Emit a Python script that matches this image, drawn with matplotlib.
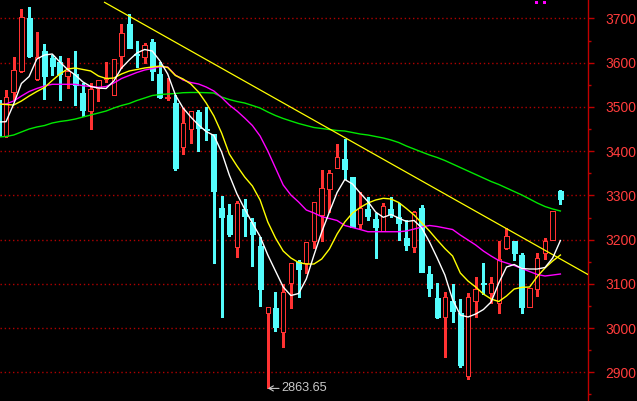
import matplotlib
matplotlib.use("Agg")
import matplotlib.pyplot as plt
from matplotlib.patches import Rectangle
from matplotlib.ticker import MultipleLocator, FixedLocator

# ---------------- data ----------------
opens = [3515.7, 3435.0, 3534.5, 3580.6, 3700.5, 3562.5, 3626.5, 3610.0, 3601.6, 3570.7,
         3574.5, 3531.6, 3491.5, 3542.2, 3562.1, 3527.7, 3615.2, 3687.6, 3619.7, 3612.3,
         3647.5, 3574.5, 3520.3, 3509.6, 3408.8, 3450.9, 3488.6, 3450.5, 3438.2, 3270.9,
         3255.7, 3184.1, 3269.3, 3239.2, 3185.6, 3033.5, 3044.8, 2990.5, 3101.3, 3150.1,
         3146.5, 3196.3, 3256.4, 3315.2, 3362.7, 3381.7, 3341.0, 3234.7, 3269.3, 3246.7,
         3219.6, 3269.3, 3250.5, 3204.4, 3182.3, 3270.9, 3122.3, 3067.4, 3025.8, 3061.3,
         3033.5, 2892.4, 3062.0, 3102.0, 3078.7, 3056.1, 3181.8, 3197.6, 3165.3, 3047.0,
         3087.8, 3169.1, 3199.2, 3310.0]
highs = [3521.0, 3538.3, 3612.3, 3721.5, 3726.7, 3668.8, 3643.0, 3617.5, 3615.2, 3610.0,
         3626.5, 3553.5, 3554.2, 3561.0, 3601.6, 3607.8, 3687.6, 3710.2, 3648.0, 3645.3,
         3653.0, 3602.3, 3565.5, 3527.0, 3497.0, 3490.9, 3493.1, 3500.6, 3438.2, 3298.7,
         3280.6, 3287.4, 3291.9, 3248.3, 3205.3, 3047.0, 3080.9, 3099.7, 3146.5, 3154.0,
         3195.4, 3284.4, 3357.5, 3357.5, 3415.6, 3426.9, 3341.0, 3308.4, 3297.1, 3259.6,
         3282.2, 3295.7, 3282.2, 3244.4, 3264.8, 3278.3, 3140.4, 3101.3, 3081.0, 3099.0,
         3065.1, 3078.7, 3114.9, 3146.5, 3116.2, 3196.9, 3225.7, 3197.6, 3169.1, 3091.4,
         3169.1, 3203.0, 3264.8, 3312.3]
lows = [3430.0, 3432.1, 3515.7, 3578.0, 3614.0, 3562.0, 3518.0, 3572.3, 3515.7, 3542.2,
        3504.4, 3479.6, 3450.2, 3514.2, 3557.1, 3527.7, 3587.4, 3634.0, 3591.0, 3598.7,
        3561.0, 3520.9, 3515.7, 3357.5, 3393.0, 3417.8, 3401.1, 3425.3, 3147.9, 3024.4,
        3208.0, 3161.5, 3208.3, 3140.4, 3050.0, 2863.65, 2994.1, 2958.0, 3044.8, 3071.0,
        3125.3, 3181.8, 3197.0, 3263.2, 3362.7, 3337.1, 3229.3, 3227.0, 3244.4, 3157.8,
        3219.6, 3251.9, 3199.2, 3176.6, 3172.8, 3127.5, 3073.3, 3023.5, 2935.4, 3014.5,
        2911.4, 2884.9, 3025.8, 3077.1, 3057.5, 3034.8, 3178.2, 3154.0, 3033.5, 3047.0,
        3073.3, 3155.6, 3199.2, 3279.9]
closes = [3434.3, 3521.8, 3582.9, 3702.7, 3615.9, 3612.3, 3570.7, 3593.3, 3573.8, 3581.3,
          3549.6, 3493.1, 3541.3, 3560.3, 3564.4, 3607.8, 3666.5, 3634.0, 3617.5, 3639.4,
          3582.0, 3523.2, 3521.8, 3362.7, 3463.1, 3490.9, 3453.1, 3448.5, 3310.7, 3251.9,
          3213.5, 3282.2, 3253.5, 3212.8, 3088.4, 3047.0, 3003.2, 3082.3, 3146.5, 3132.9,
          3195.4, 3284.4, 3316.1, 3350.0, 3387.5, 3359.1, 3229.3, 3270.9, 3254.1, 3229.3,
          3276.8, 3257.3, 3238.3, 3187.9, 3262.1, 3127.5, 3090.0, 3025.8, 3071.0, 3039.4,
          2916.6, 3069.7, 3087.8, 3100.0, 3102.7, 3155.6, 3208.3, 3169.1, 3047.0, 3091.4,
          3157.8, 3196.9, 3264.8, 3291.2]

ma5 = [3466.0, 3466.6, 3506.7, 3553.0, 3568.8, 3608.4, 3617.4, 3619.7, 3601.6, 3584.7,
       3572.2, 3556.4, 3546.2, 3542.8, 3541.7, 3558.7, 3588.0, 3606.1, 3622.0, 3629.9,
       3626.5, 3603.9, 3574.5, 3527.0, 3497.6, 3477.3, 3459.2, 3444.5, 3435.4, 3398.1,
       3346.1, 3303.2, 3269.3, 3237.6, 3207.1, 3165.3, 3129.1, 3092.9, 3073.7, 3078.2,
       3111.0, 3165.3, 3217.3, 3262.5, 3306.6, 3336.0, 3325.8, 3305.4, 3286.2, 3262.5,
       3250.5, 3256.8, 3248.9, 3241.0, 3243.3, 3226.3, 3194.7, 3158.5, 3120.0, 3064.6,
       3029.6, 3025.1, 3031.9, 3042.0, 3059.0, 3102.0, 3138.1, 3143.8, 3134.7, 3133.6,
       3133.6, 3137.0, 3158.5, 3198.0]
ma10 = [3506.7, 3505.5, 3504.4, 3513.4, 3524.7, 3534.9, 3544.0, 3559.8, 3574.5, 3585.8,
        3588.1, 3584.7, 3581.3, 3570.0, 3564.3, 3565.4, 3574.5, 3581.3, 3584.7, 3588.1,
        3590.3, 3592.6, 3589.2, 3571.1, 3563.2, 3551.9, 3533.8, 3508.9, 3479.5, 3441.1,
        3393.6, 3366.5, 3341.6, 3321.3, 3289.6, 3239.9, 3203.7, 3174.3, 3158.5, 3148.3,
        3144.9, 3144.9, 3156.2, 3178.8, 3212.7, 3239.9, 3260.2, 3272.7, 3282.8, 3289.6,
        3293.5, 3291.9, 3284.0, 3270.4, 3255.7, 3237.6, 3219.5, 3199.2, 3179.9, 3163.0,
        3124.6, 3106.5, 3092.9, 3077.1, 3065.8, 3060.1, 3072.6, 3088.4, 3092.2, 3092.9,
        3116.7, 3135.9, 3151.7, 3165.3]
ma20 = [3505.5, 3506.7, 3513.4, 3524.7, 3534.9, 3541.7, 3547.4, 3551.2, 3551.2, 3551.2,
        3551.2, 3548.0, 3546.2, 3544.4, 3546.2, 3554.1, 3564.3, 3571.1, 3577.9, 3583.5,
        3586.9, 3591.0, 3590.3, 3572.2, 3560.9, 3555.3, 3551.9, 3545.1, 3536.0, 3521.4,
        3504.4, 3490.8, 3475.0, 3458.0, 3434.3, 3400.4, 3362.0, 3323.5, 3300.9, 3285.1,
        3267.0, 3260.2, 3251.9, 3247.8, 3243.3, 3232.0, 3227.4, 3222.9, 3217.9, 3217.9,
        3217.9, 3217.9, 3217.9, 3219.5, 3224.0, 3228.6, 3232.0, 3229.7, 3226.3, 3222.9,
        3210.4, 3199.2, 3187.9, 3174.3, 3163.0, 3152.8, 3147.2, 3141.5, 3134.7, 3127.9,
        3121.2, 3117.8, 3120.0, 3122.3]
ma60 = [3432.0, 3433.2, 3436.6, 3443.4, 3450.1, 3454.7, 3458.0, 3463.7, 3467.1, 3469.4,
        3472.7, 3477.3, 3481.8, 3486.3, 3490.8, 3497.6, 3503.3, 3507.8, 3514.6, 3520.2,
        3525.9, 3528.1, 3529.3, 3530.4, 3532.2, 3532.7, 3532.7, 3532.2, 3531.5, 3522.5,
        3516.8, 3512.3, 3508.9, 3503.3, 3497.6, 3488.6, 3480.6, 3473.9, 3468.2, 3462.6,
        3458.0, 3453.5, 3451.3, 3449.0, 3446.7, 3445.6, 3442.2, 3438.8, 3436.6, 3433.2,
        3429.8, 3425.3, 3419.6, 3411.7, 3404.9, 3398.1, 3391.4, 3385.7, 3378.9, 3371.0,
        3363.1, 3355.2, 3347.3, 3339.4, 3331.5, 3324.7, 3316.8, 3308.8, 3300.9, 3291.9,
        3282.8, 3274.9, 3269.3, 3264.8]

trend_idx = [13.8, 76.6]
trend_val = [3736.5, 3121.0]

low_idx = 35
low_label = "2863.65"
y_ticks = [2900, 3000, 3100, 3200, 3300, 3400, 3500, 3600, 3700]

# ---------------- styling ----------------
BG = "#000000"
UP = "#ff3232"
DOWN = "#54fcfc"
AXRED = "#c00000"
GRIDRED = "#b00000"
LABRED = "#ff3c3c"

W, H = 637, 401
fig = plt.figure(figsize=(W / 100, H / 100), dpi=100, facecolor=BG)
ax = fig.add_axes([0, 0, 587.5 / W, 1])
ax.set_facecolor(BG)

n = len(closes)
xs = list(range(n))

# grid
for t in y_ticks:
    ax.axhline(t, color=GRIDRED, lw=1.0, linestyle=(0, (1, 2)), zorder=0)

# candles
px = 7.7  # pixels per bar (for sizing only)
body_w = 5.0 / px
for i in xs:
    o, h, l, c = opens[i], highs[i], lows[i], closes[i]
    if c >= o:
        bw = 4.4 / px
        ax.vlines(i, l, o, color=UP, lw=0.9, zorder=3, antialiased=False)
        ax.vlines(i, c, h, color=UP, lw=0.9, zorder=3, antialiased=False)
        ax.add_patch(Rectangle((i - bw / 2, o), bw, max(c - o, 0.5), facecolor=BG,
                               edgecolor=UP, lw=0.72, zorder=3, antialiased=False))
    else:
        ax.vlines(i, l, h, color=DOWN, lw=0.9, zorder=3, antialiased=False)
        ax.add_patch(Rectangle((i - body_w / 2, c), body_w, max(o - c, 0.5), facecolor=DOWN,
                               edgecolor=DOWN, lw=0.5, zorder=3, antialiased=False))

# moving averages
ax.plot(xs, ma60, color="#00e800", lw=1.0, zorder=4)
ax.plot(xs, ma20, color="#ff00ff", lw=1.0, zorder=4)
ax.plot(xs, ma10, color="#ffff00", lw=1.0, zorder=4)
ax.plot(xs, ma5, color="#ffffff", lw=1.0, zorder=5)

# trend line
ax.plot(trend_idx, trend_val, color="#ffff00", lw=0.9, zorder=4)

# low annotation
ax.annotate(low_label, xy=(low_idx, lows[low_idx]), xytext=(14, 0),
            textcoords="offset pixels", ha="left", va="center",
            color="#c8c8c8", fontsize=9.2,
            family=["Liberation Sans", "DejaVu Sans"],
            arrowprops=dict(arrowstyle="->,head_length=0.35,head_width=0.2",
                            color="#c8c8c8", lw=0.8, shrinkA=0, shrinkB=0,
                            relpos=(0, 0.5)),
            zorder=6)

# axes limits
ax.set_xlim(0.2208, 76.52)
ax.set_ylim(2835.2, 3741.8)

for s in ["left", "top", "bottom"]:
    ax.spines[s].set_visible(False)
ax.spines["right"].set_color(AXRED)
ax.spines["right"].set_linewidth(1.0)
ax.set_xticks([])
ax.yaxis.tick_right()
ax.yaxis.set_major_locator(FixedLocator(y_ticks))
ax.yaxis.set_minor_locator(MultipleLocator(50))
ax.tick_params(axis="y", which="major", direction="out", length=4.1, width=1.0,
               color=AXRED, labelcolor=LABRED, labelsize=10, pad=8.5)
ax.tick_params(axis="y", which="minor", direction="out", length=1.8, width=1.0,
               color=AXRED)
for lab in ax.get_yticklabels():
    lab.set_family(["Liberation Sans Narrow", "Liberation Sans", "DejaVu Sans"])

# small indicator squares at top
for x0 in (535, 543):
    fig.add_artist(Rectangle((x0 / W, 1 - 4 / H), 3 / W, 3 / H, transform=fig.transFigure,
                             facecolor="#ff00ff", edgecolor="none"))

fig.savefig("out.png", dpi=100, facecolor=BG)
